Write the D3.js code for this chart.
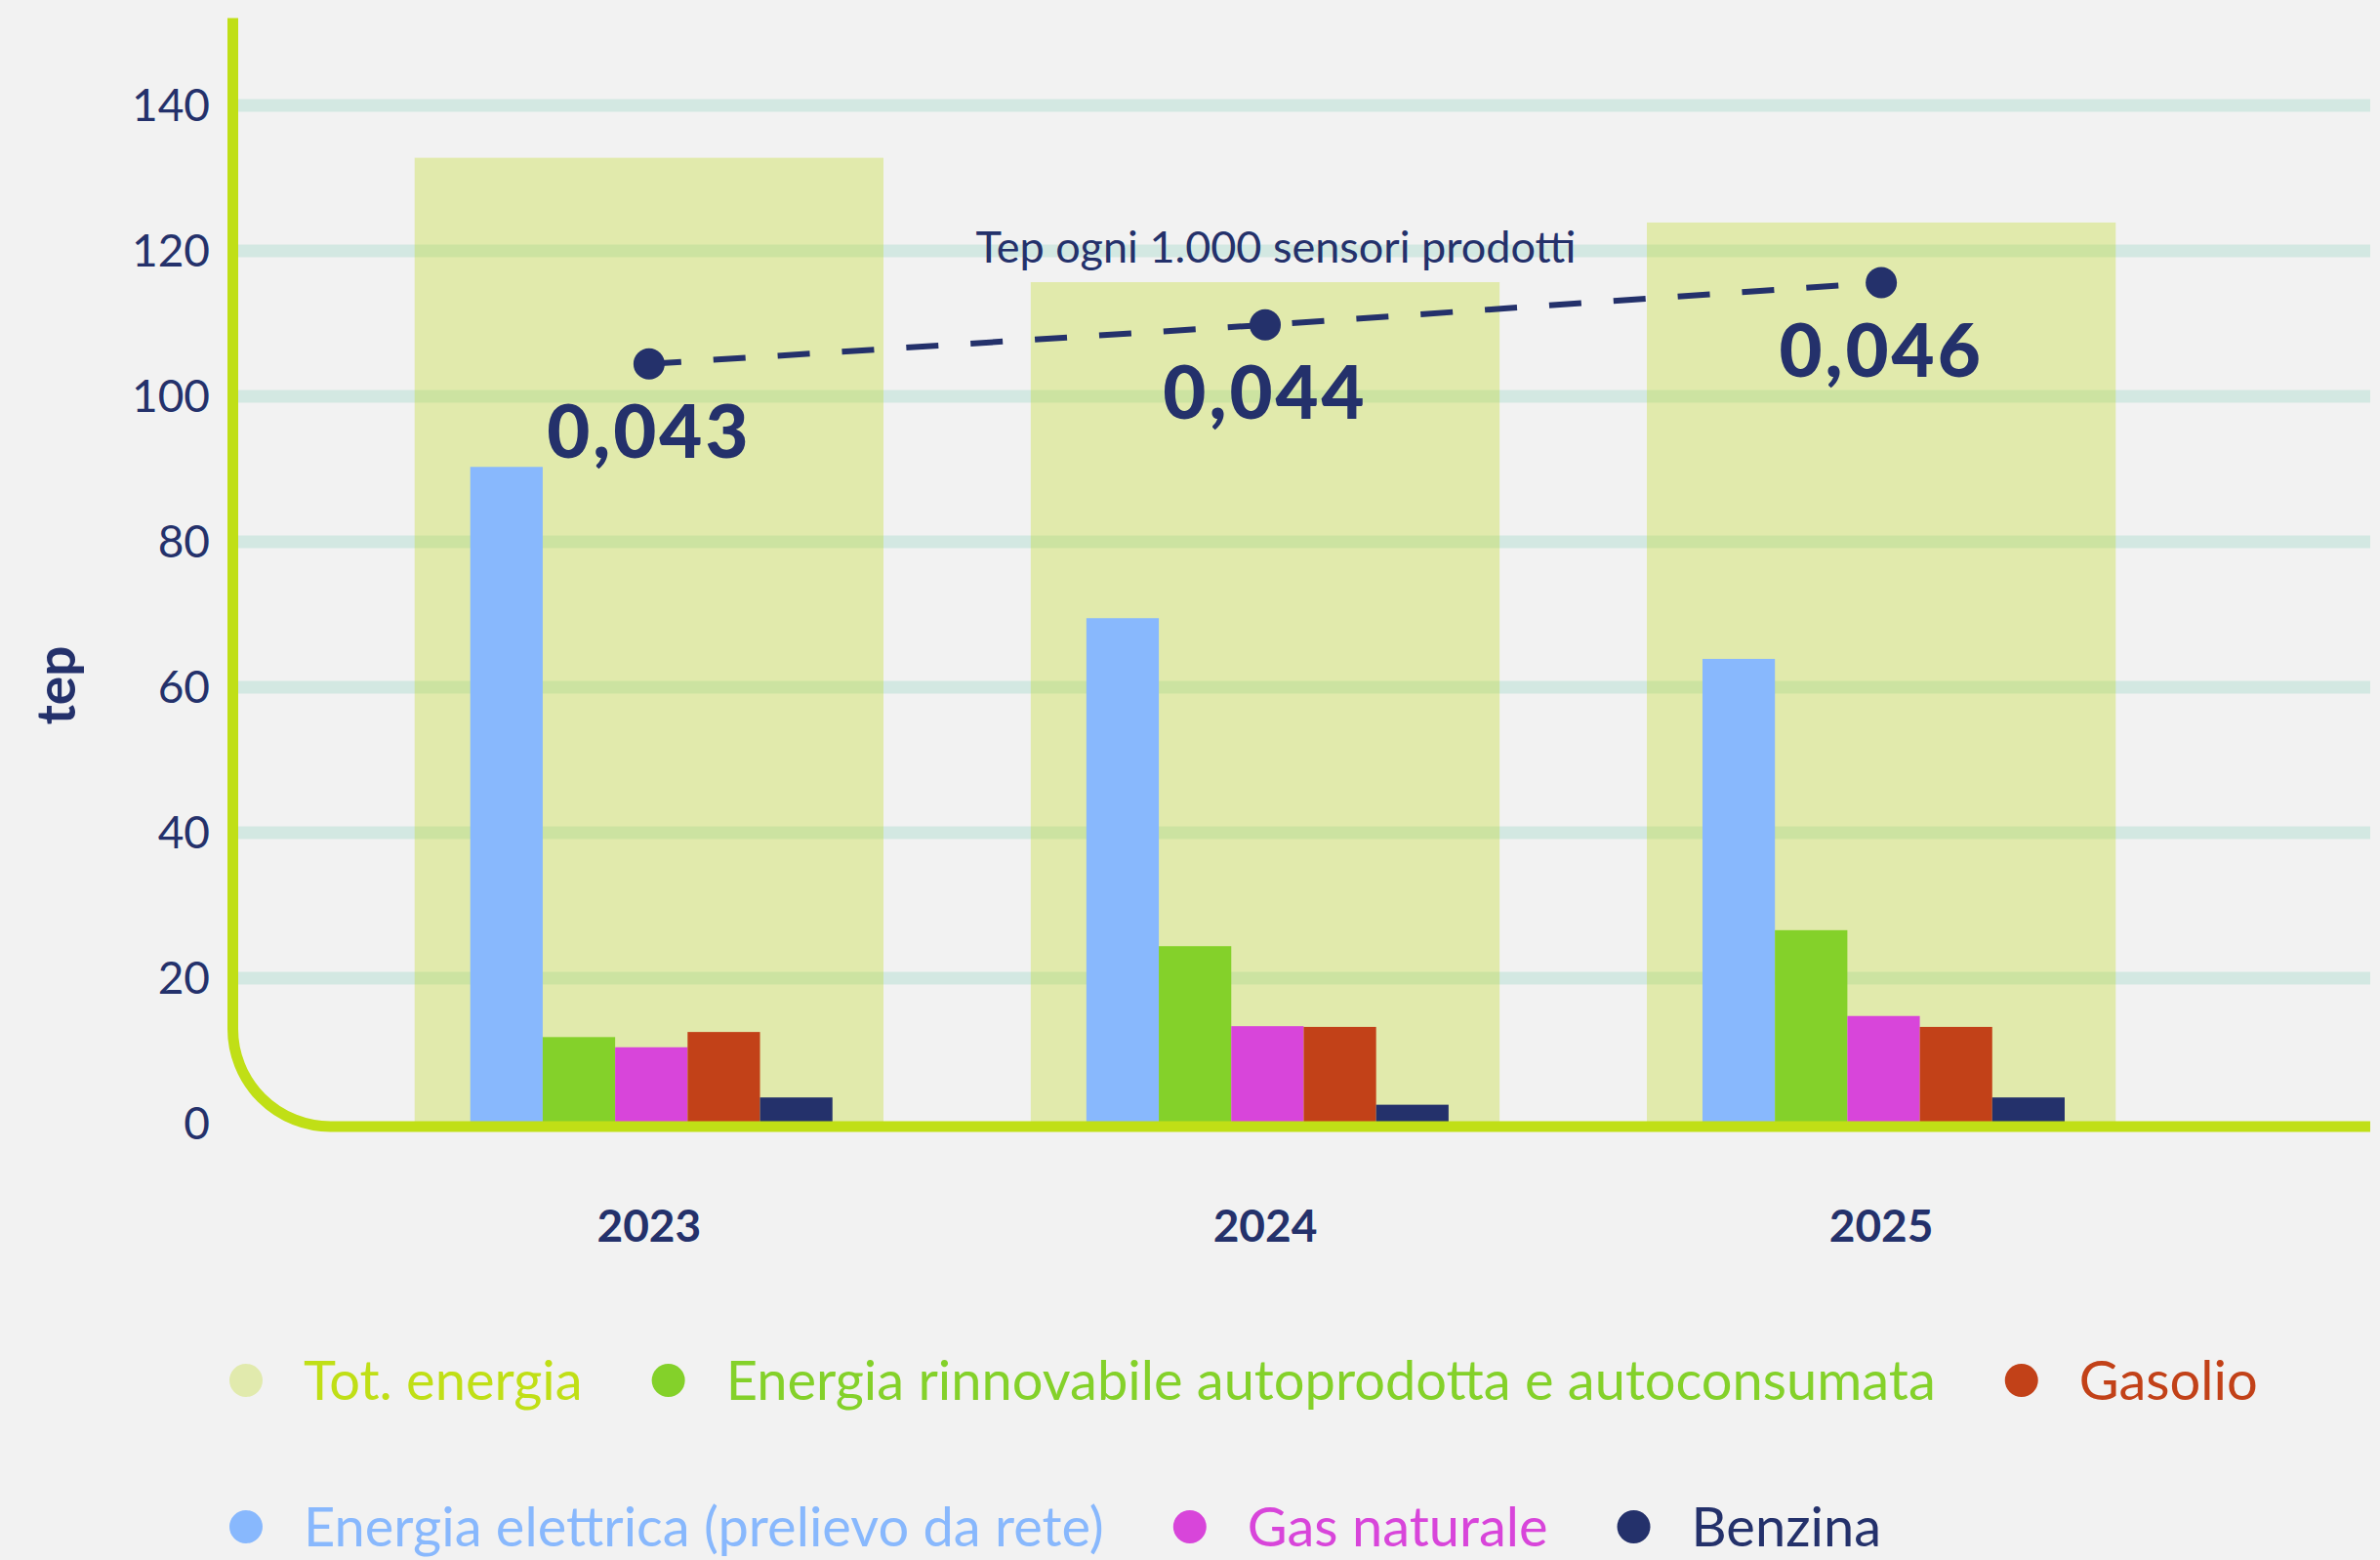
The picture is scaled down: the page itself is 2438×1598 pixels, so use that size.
<!DOCTYPE html>
<html>
<head>
<meta charset="utf-8">
<script src="https://cdn.jsdelivr.net/npm/d3@7"></script>
<style>
  html, body { margin: 0; padding: 0; background: #f2f2f2; }
  svg { display: block; font-family: Lato, "Noto Sans", sans-serif; }
</style>
</head>
<body>
<svg id="chart" width="2438" height="1598"></svg>
<script>
// data (tep)
var years = ["2023", "2024", "2025"];
var totEnergia = [132.8, 115.7, 123.9];
var elettrica = [90.3, 69.5, 63.9];
var rinnovabile = [11.9, 24.4, 26.6];
var gasNaturale = [10.5, 13.4, 14.8];
var gasolio = [12.6, 13.3, 13.3];
var benzina = [3.6, 2.6, 3.6];
// tep every 1.000 sensors
var tepSensori = [0.0431, 0.0443, 0.0456];
var yTicks = [0, 20, 40, 60, 80, 100, 120, 140];

var series = [
  {key: "elettrica", label: "Energia elettrica (prelievo da rete)", values: elettrica, color: "#88b8fd"},
  {key: "rinnovabile", label: "Energia rinnovabile autoprodotta e autoconsumata", values: rinnovabile, color: "#84d12a"},
  {key: "gas", label: "Gas naturale", values: gasNaturale, color: "#d845da"},
  {key: "gasolio", label: "Gasolio", values: gasolio, color: "#c24118"},
  {key: "benzina", label: "Benzina", values: benzina, color: "#24316b"}
];

var navy = "#24316b",
    lime = "#c0df16";

var svg = d3.select("svg#chart");

var y = d3.scaleLinear().domain([0, 140]).range([1151, 108]);
var y2 = d3.scaleLinear().domain([0.04, 0.05]).range([476, 143]);

var x0 = d3.scaleBand()
    .domain(years)
    .range([349, 2243])
    .paddingInner(0.239)
    .paddingOuter(0.12);

var x1 = d3.scaleBand()
    .domain(series.map(function(s) { return s.key; }))
    .range([57, 428]);

var axisX = 238.5, axisRight = 2428, baseY = 1154, radius = 100;

// gridlines
svg.append("g")
  .selectAll("line")
  .data(yTicks.filter(function(d) { return d > 0; }))
  .enter().append("line")
    .attr("x1", axisX + 5)
    .attr("x2", axisRight)
    .attr("y1", function(d) { return y(d); })
    .attr("y2", function(d) { return y(d); })
    .attr("stroke", "#d3e8e2")
    .attr("stroke-width", 13);

// y tick labels
svg.append("g")
    .attr("fill", navy)
    .attr("font-size", 46)
    .attr("text-anchor", "end")
  .selectAll("text")
  .data(yTicks)
  .enter().append("text")
    .attr("x", 215)
    .attr("y", function(d) { return y(d) + 16; })
    .text(function(d) { return d; });

svg.append("text")
    .attr("transform", "translate(77," + 702 + ") rotate(-90)")
    .attr("text-anchor", "middle")
    .attr("font-size", 55)
    .attr("font-weight", 700)
    .attr("fill", navy)
    .text("tep");

// tot. energia backgrounds
svg.append("g")
  .selectAll("rect")
  .data(years)
  .enter().append("rect")
    .attr("x", function(d) { return x0(d); })
    .attr("y", function(d, i) { return y(totEnergia[i]); })
    .attr("width", x0.bandwidth())
    .attr("height", function(d, i) { return y(0) - y(totEnergia[i]); })
    .attr("fill", "#bedb1a")
    .attr("fill-opacity", 0.32);

// grouped bars
svg.append("g")
  .selectAll("g")
  .data(years)
  .enter().append("g")
    .attr("transform", function(d) { return "translate(" + x0(d) + ",0)"; })
  .selectAll("rect")
  .data(function(d, i) { return series.map(function(s) { return {key: s.key, value: s.values[i], color: s.color}; }); })
  .enter().append("rect")
    .attr("x", function(d) { return x1(d.key); })
    .attr("y", function(d) { return y(d.value); })
    .attr("width", x1.bandwidth())
    .attr("height", function(d) { return y(0) - y(d.value); })
    .attr("fill", function(d) { return d.color; });

// axis with rounded corner
var axisPath = d3.path();
axisPath.moveTo(axisX, y(152));
axisPath.lineTo(axisX, baseY - radius);
axisPath.arcTo(axisX, baseY, axisX + radius, baseY, radius);
axisPath.lineTo(axisRight, baseY);
svg.append("path")
    .attr("d", axisPath.toString())
    .attr("fill", "none")
    .attr("stroke", lime)
    .attr("stroke-width", 11);

// x labels
svg.append("g")
    .attr("fill", navy)
    .attr("font-size", 46)
    .attr("font-weight", 700)
    .attr("text-anchor", "middle")
  .selectAll("text")
  .data(years)
  .enter().append("text")
    .attr("x", function(d) { return x0(d) + x0.bandwidth() / 2; })
    .attr("y", 1272)
    .text(function(d) { return d; });

// tep per 1.000 sensori line
var cx = function(d, i) { return x0(years[i]) + x0.bandwidth() / 2; };
var line = d3.line()
    .x(cx)
    .y(function(d) { return y2(d); });

svg.append("path")
    .datum(tepSensori)
    .attr("d", line)
    .attr("fill", "none")
    .attr("stroke", navy)
    .attr("stroke-width", 6)
    .attr("stroke-dasharray", "33,33");

svg.append("g")
  .selectAll("circle")
  .data(tepSensori)
  .enter().append("circle")
    .attr("cx", cx)
    .attr("cy", function(d) { return y2(d); })
    .attr("r", 16)
    .attr("fill", navy);

var fmt = d3.format(".3f");
svg.append("g")
    .attr("fill", navy)
    .attr("font-size", 76)
    .attr("font-weight", 900)
    .attr("letter-spacing", 3)
    .attr("text-anchor", "middle")
  .selectAll("text")
  .data(tepSensori)
  .enter().append("text")
    .attr("x", cx)
    .attr("y", function(d) { return y2(d) + 96; })
    .text(function(d) { return fmt(d).replace(".", ","); });

svg.append("text")
    .attr("x", x0("2024") + x0.bandwidth() / 2 + 11)
    .attr("y", 269)
    .attr("text-anchor", "middle")
    .attr("font-size", 45)
    .attr("fill", navy)
    .text("Tep ogni 1.000 sensori prodotti");

// legend
var legendRows = [
  [{label: "Tot. energia", dot: "#e1eaad", color: lime},
   {label: series[1].label, dot: series[1].color, color: series[1].color},
   {label: series[3].label, dot: series[3].color, color: series[3].color}],
  [{label: series[0].label, dot: series[0].color, color: series[0].color},
   {label: series[2].label, dot: series[2].color, color: series[2].color},
   {label: series[4].label, dot: series[4].color, color: series[4].color}]
];

legendRows.forEach(function(row, r) {
  var baseline = 1434 + r * 150,
      pos = 252;
  row.forEach(function(item) {
    var g = svg.append("g");
    g.append("circle")
        .attr("cx", pos)
        .attr("cy", baseline - 20)
        .attr("r", 17)
        .attr("fill", item.dot);
    var t = g.append("text")
        .attr("x", pos + 59)
        .attr("y", baseline)
        .attr("font-size", 56)
        .attr("fill", item.color)
        .text(item.label);
    pos = pos + 59 + t.node().getComputedTextLength() + 88;
  });
});
</script>
</body>
</html>
